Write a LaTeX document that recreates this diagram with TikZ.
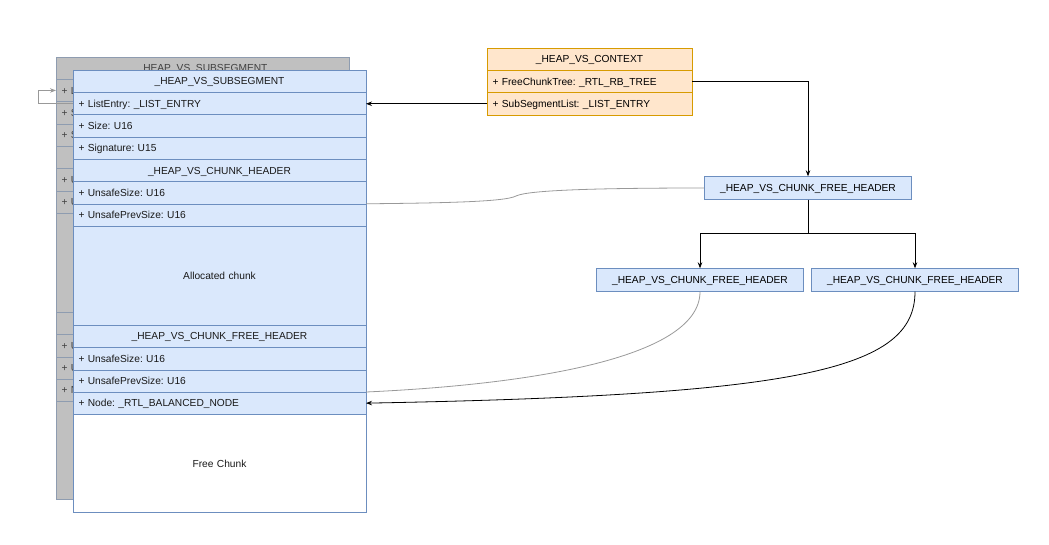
\documentclass[tikz,border=0pt]{standalone}
\usepackage{fontspec}
\setmainfont{Liberation Sans}
\usetikzlibrary{positioning,arrows.meta}
\usepackage{xcolor}
\definecolor{rowfill}{HTML}{DAE8FC}
\definecolor{rowline}{HTML}{6C8EBF}
\definecolor{ctxfill}{HTML}{FFE6CC}
\definecolor{ctxline}{HTML}{D79B00}
\definecolor{backfill}{HTML}{C0C0C0}
\definecolor{backline}{HTML}{8E9CB0}
\frenchspacing

\tikzset{
  field/.style={draw=rowline, fill=rowfill, minimum width=293pt, text width=282pt,
    inner xsep=5.5pt, inner ysep=0pt, outer sep=0pt, minimum height=22.3pt, align=left,
    text height=7.4pt, text depth=0pt, font=\fontsize{10.2}{12}\selectfont},
  title/.style={field, align=center},
  bigrow/.style={title, minimum height=99pt},
  freerow/.style={title, fill=white, minimum height=98pt},
  backrow/.style={fill=backfill, draw=backline, text=black!75},
  frontrow/.style={text=black!90},
  ctxrow/.style={field, draw=ctxline, fill=ctxfill, minimum width=205pt, text width=194pt},
  ctxtitle/.style={ctxrow, align=center},
  fhbox/.style={draw=rowline, fill=rowfill, minimum width=207pt, minimum height=23pt,
    inner sep=0pt, text height=7.4pt, text depth=0pt, font=\fontsize{10.2}{12}\selectfont},
  link/.style={->, line width=0.8pt, black},
  glink/.style={line width=0.8pt, gray!80}
}

% one _HEAP_VS_SUBSEGMENT column: #1 name prefix, #2 top left corner, #3 look
\newcommand{\subsegrows}[3]{%
  \node[title, #3, anchor=north west] (#1hdr) at #2 {\_HEAP\_VS\_SUBSEGMENT};
  \foreach \rname/\rstyle/\rtext [remember=\rname as \rprev (initially hdr)] in {%
    list/field/{+ ListEntry: \_LIST\_ENTRY},%
    size/field/{+ Size: U16},%
    sig/field/{+ Signature: U15},%
    chdr/title/{\_HEAP\_VS\_CHUNK\_HEADER},%
    usz/field/{+ UnsafeSize: U16},%
    upsz/field/{+ UnsafePrevSize: U16},%
    alloc/bigrow/{Allocated chunk},%
    fhdr/title/{\_HEAP\_VS\_CHUNK\_FREE\_HEADER},%
    fusz/field/{+ UnsafeSize: U16},%
    fupsz/field/{+ UnsafePrevSize: U16},%
    node/field/{+ Node: \_RTL\_BALANCED\_NODE},%
    free/freerow/{Free Chunk}%
  }
    \node[\rstyle, #3, below=0pt of #1\rprev] (#1\rname) {\rtext};
}

\begin{document}
\frenchspacing
\begin{tikzpicture}[x=1pt, y=-1pt, >={Stealth[length=6pt, width=4.5pt]}]
\useasboundingbox (0,0) rectangle (1049,544);

% the subsegment behind, then the one in front
\subsegrows{b}{(56,57)}{backrow}
\subsegrows{f}{(73,70)}{frontrow}

% _HEAP_VS_CONTEXT
\node[ctxtitle, anchor=north west] (ctxhdr) at (487,48) {\_HEAP\_VS\_CONTEXT};
\node[ctxrow, below=0pt of ctxhdr] (ctxtree) {+ FreeChunkTree: \_RTL\_RB\_TREE};
\node[ctxrow, below=0pt of ctxtree] (ctxsub) {+ SubSegmentList: \_LIST\_ENTRY};

% free chunk tree
\node[fhbox] (root) at (808,188) {\_HEAP\_VS\_CHUNK\_FREE\_HEADER};
\node[fhbox] (left) at (700,280) {\_HEAP\_VS\_CHUNK\_FREE\_HEADER};
\node[fhbox] (right) at (915,280) {\_HEAP\_VS\_CHUNK\_FREE\_HEADER};

\draw[link] (ctxsub.west) -- (ctxsub.west -| flist.east);
\draw[link] (ctxtree.east) -| (root.north);
\draw[line width=0.8pt] (root.south) -- ++(0,34) coordinate (split);
\draw[link] (split) -| (left.north);
\draw[link] (split) -| (right.north);

% list entry back to the previous subsegment
\draw[glink, ->] (flist.west) -- ++(-35,0) |- (blist.west);

% links from the tree into the chunks
\draw[glink] (root.west) .. controls (600,188) and (528,190) .. (516,196)
  .. controls (505,202) and (440,203) .. (fusz.south east);
\draw[glink] (left.south) .. controls (700,360) and (520,385) .. (ffupsz.south east);
\draw[link] (right.south) .. controls (915,370) and (800,395) .. (fnode.east);
%\draw[link] (right.south) -- (fnode.east);
\end{tikzpicture}
\end{document}
